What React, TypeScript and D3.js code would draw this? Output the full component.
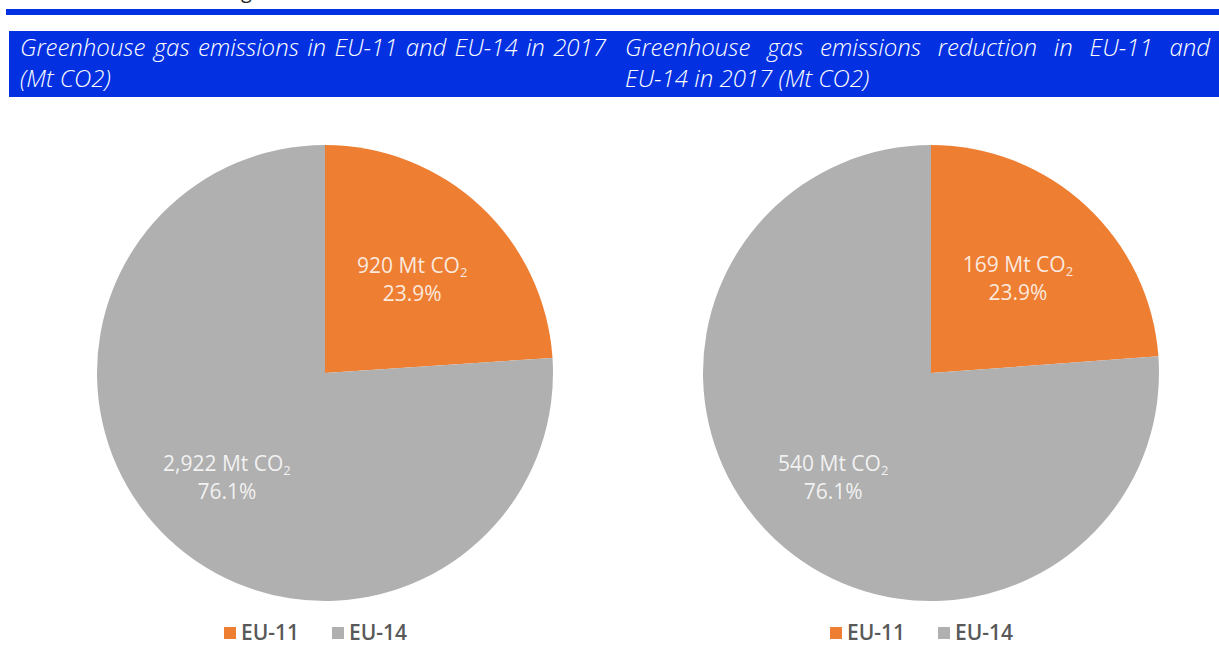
import React, { useLayoutEffect, useRef } from "react";
import * as d3 from "d3";

const categories = ["EU-11", "EU-14"];
const emissionValues = [920, 2922];
const reductionValues = [169, 540];
const emissionLabels = ["920 Mt CO", "2,922 Mt CO"];
const reductionLabels = ["169 Mt CO", "540 Mt CO"];
const percentLabels = ["23.9%", "76.1%"];
const titleLeft = ["Greenhouse gas emissions in EU-11 and EU-14 in 2017", "(Mt CO2)"];
const titleRight = ["Greenhouse gas emissions reduction in EU-11 and", "EU-14 in 2017 (Mt CO2)"];

const W = 1219;
const H = 648;
const BLUE = "#0331E2";
const colors = d3.scaleOrdinal<string, string>().domain(categories).range(["#EE7E32", "#B0B0B0"]);
const R = 228;
const labelFactors = [0.56, 0.63];
const TITLE_FONT = "'Open Sans', sans-serif";
const TITLE_SIZE = 24;
const TITLE_WEIGHT = 300;

function JustifiedLine({ text, x, y, width }: { text: string; x: number; y: number; width: number }) {
  const ref = useRef<SVGTextElement>(null);
  useLayoutEffect(() => {
    let alive = true;
    const measure = () => {
      if (!ref.current || !alive) return;
      const el = ref.current;
      el.setAttribute("word-spacing", "0");
      const w = el.getComputedTextLength();
      const gaps = text.split(" ").length - 1;
      if (gaps > 0) el.setAttribute("word-spacing", String((width - w) / gaps));
    };
    measure();
    if ((document as any).fonts && (document as any).fonts.ready) {
      (document as any).fonts.ready.then(() => requestAnimationFrame(measure));
    }
    return () => {
      alive = false;
    };
  }, [text, width]);
  return (
    <text
      ref={ref}
      x={x}
      y={y}
      fill="#fff"
      fontFamily={TITLE_FONT}
      fontStyle="italic"
      fontWeight={TITLE_WEIGHT}
      fontSize={TITLE_SIZE}
    >
      {text}
    </text>
  );
}

function Pie({ cx, cy, values, labels }: { cx: number; cy: number; values: number[]; labels: string[] }) {
  const pie = d3.pie<number>().sort(null).value((d) => d);
  const arcs = pie(values);
  const arc = d3.arc<d3.PieArcDatum<number>>().innerRadius(0).outerRadius(R);
  return (
    <g transform={`translate(${cx},${cy})`}>
      {arcs.map((a, i) => (
        <path key={i} d={arc(a) || ""} fill={colors(categories[i])} />
      ))}
      {arcs.map((a, i) => {
        const lr = R * labelFactors[i];
        const la = d3.arc<d3.PieArcDatum<number>>().innerRadius(lr).outerRadius(lr);
        const [lx, ly] = la.centroid(a);
        return (
          <g key={"l" + i} transform={`translate(${lx},${ly})`} fill="#FFFFFF" fillOpacity={0.85}
            fontFamily="'Open Sans', sans-serif" fontSize={21} textAnchor="middle">
            <text y={-7}>
              {labels[i]}
              <tspan fontSize={13} dy={4}>2</tspan>
            </text>
            <text y={21}>{percentLabels[i]}</text>
          </g>
        );
      })}
    </g>
  );
}

function Legend({ cx, y }: { cx: number; y: number }) {
  const offsets = [0, 108];
  return (
    <g transform={`translate(${cx - 101},${y})`}>
      {categories.map((c, i) => (
        <g key={c} transform={`translate(${offsets[i]},0)`}>
          <rect x={0} y={-6} width={12} height={12} fill={colors(c)} />
          <text x={17} y={7} fontFamily="'Open Sans', sans-serif" fontSize={21} fontWeight={600} fill="#595959">
            {c}
          </text>
        </g>
      ))}
    </g>
  );
}

export default function App() {
  return (
    <svg width={W} height={H} style={{ position: "absolute", left: 0, top: 0, background: "#fff" }}>
      <rect width={W} height={H} fill="#fff" />
      <text x={241} y={-2} fontFamily="'Open Sans', sans-serif" fontSize={20} fill="#222">g</text>
      <rect x={6} y={9} width={W - 6} height={6} fill={BLUE} />
      <rect x={9} y={31} width={W - 9} height={66} fill={BLUE} />
      <JustifiedLine text={titleLeft[0]} x={20} y={56} width={586} />
      <text x={20} y={87} fill="#fff" fontFamily={TITLE_FONT} fontStyle="italic" fontWeight={TITLE_WEIGHT} fontSize={TITLE_SIZE}>
        {titleLeft[1]}
      </text>
      <JustifiedLine text={titleRight[0]} x={625} y={56} width={585} />
      <text x={625} y={87} fill="#fff" fontFamily={TITLE_FONT} fontStyle="italic" fontWeight={TITLE_WEIGHT} fontSize={TITLE_SIZE}>
        {titleRight[1]}
      </text>
      <Pie cx={325} cy={373} values={emissionValues} labels={emissionLabels} />
      <Pie cx={931} cy={373} values={reductionValues} labels={reductionLabels} />
      <Legend cx={325} y={633} />
      <Legend cx={931} y={633} />
    </svg>
  );
}
